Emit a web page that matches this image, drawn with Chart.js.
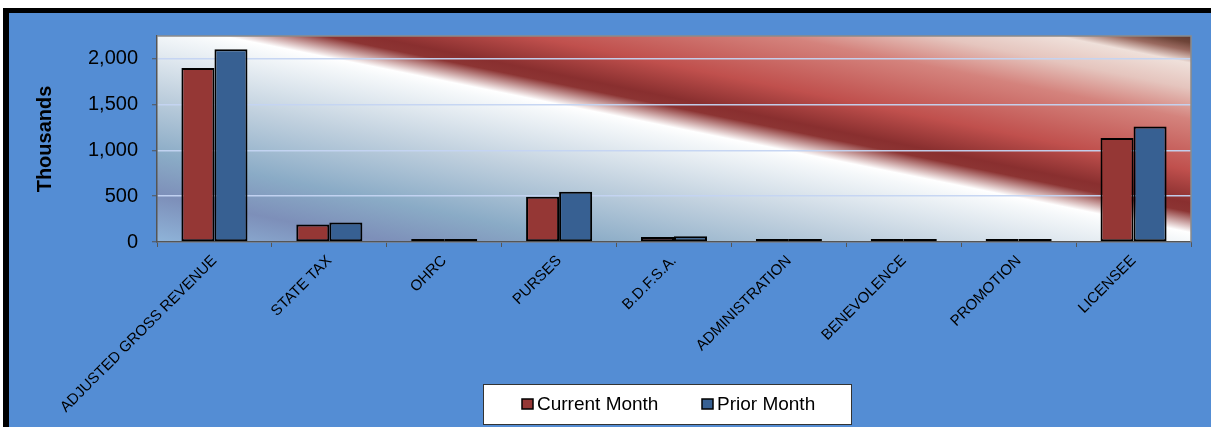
<!DOCTYPE html>
<html>
<head>
<meta charset="utf-8">
<script src="https://cdn.jsdelivr.net/npm/chart.js@4.4.0/dist/chart.umd.min.js"></script>
<style>
  html, body { margin: 0; padding: 0; background: #fff; overflow: hidden; }
  #frame {
    position: absolute; left: 3px; top: 8px;
    width: 1260px; height: 460px;
    border: 5px solid #000; border-left-width: 6px;
    background: #548dd4;
  }
  #chart { position: absolute; left: 0; top: 0; }
</style>
</head>
<body>
<div id="frame"></div>
<canvas id="chart" width="1211" height="427"></canvas>
<script>
// chart values (thousands)
const categories = [
  "ADJUSTED GROSS REVENUE", "STATE TAX", "OHRC", "PURSES", "B.D.F.S.A.",
  "ADMINISTRATION", "BENEVOLENCE", "PROMOTION", "LICENSEE"
];
const currentMonth = [1900, 190, 10, 495, 55, 6, 5, 6, 1135];
const priorMonth = [2105, 212, 12, 550, 62, 7, 6, 7, 1262];
const yTicks = [0, 500, 1000, 1500, 2000];

const FONT = "Arial, 'Liberation Sans', sans-serif";

// diagonal red / white / blue fill behind the plot
const plotBackground = {
  id: "plotBackground",
  beforeDraw(chart) {
    const { ctx, chartArea: a } = chart;
    const nx = 0.199, ny = -0.980;
    const len = 408;
    const g = ctx.createLinearGradient(a.left, a.bottom, a.left + nx * len, a.bottom + ny * len);
    g.addColorStop(0.000, "#8fb4d9");
    g.addColorStop(0.113, "#7d8fb9");
    g.addColorStop(0.210, "#8aabc6");
    g.addColorStop(0.358, "#c0d0de");
    g.addColorStop(0.505, "#f5f8fa");
    g.addColorStop(0.527, "#ffffff");
    g.addColorStop(0.576, "#8c3433");
    g.addColorStop(0.598, "#892f2f");
    g.addColorStop(0.676, "#c0504d");
    g.addColorStop(0.799, "#d4837d");
    g.addColorStop(0.873, "#e5c5be");
    g.addColorStop(0.934, "#efe0da");
    g.addColorStop(0.963, "#9a6a60");
    g.addColorStop(0.983, "#6e4438");
    g.addColorStop(1.000, "#5e3a32");
    ctx.save();
    ctx.fillStyle = g;
    ctx.fillRect(a.left, a.top, a.right - a.left, a.bottom - a.top);
    ctx.restore();
  },
  afterDatasetsDraw(chart) {
    const { ctx, chartArea: a } = chart;
    ctx.save();
    ctx.strokeStyle = "#8a8a8a";
    ctx.lineWidth = 1.5;
    ctx.beginPath();
    ctx.moveTo(a.left, a.top);
    ctx.lineTo(a.right, a.top);
    ctx.lineTo(a.right, a.bottom);
    ctx.stroke();
    ctx.restore();
  }
};

// boxed legend under the labels
const boxLegend = {
  id: "boxLegend",
  afterDraw(chart) {
    const ctx = chart.ctx;
    const sets = chart.data.datasets;
    const itemX = [522, 702];
    ctx.save();
    ctx.fillStyle = "#ffffff";
    ctx.strokeStyle = "#333333";
    ctx.lineWidth = 1;
    ctx.fillRect(483.5, 384.5, 368, 40);
    ctx.strokeRect(483.5, 384.5, 368, 40);
    ctx.font = "19px " + FONT;
    ctx.textBaseline = "middle";
    sets.forEach((ds, i) => {
      ctx.fillStyle = ds.backgroundColor;
      ctx.fillRect(itemX[i], 399, 11, 10);
      ctx.strokeStyle = "#000";
      ctx.lineWidth = 1.5;
      ctx.strokeRect(itemX[i], 399, 11, 10);
      ctx.fillStyle = "#000";
      ctx.fillText(ds.label, itemX[i] + 15, 405);
    });
    ctx.restore();
  }
};

const barStyle = {
  borderColor: "#000000",
  borderWidth: 2,
  borderSkipped: false,
  minBarLength: 3,
  barPercentage: 1,
  categoryPercentage: 0.575
};

new Chart(document.getElementById("chart"), {
  type: "bar",
  data: {
    labels: categories,
    datasets: [
      { label: "Current Month", data: currentMonth, backgroundColor: "#953735", ...barStyle },
      { label: "Prior Month", data: priorMonth, backgroundColor: "#376092", ...barStyle }
    ]
  },
  options: {
    responsive: false,
    devicePixelRatio: 1,
    animation: false,
    layout: { padding: { left: 0, top: 36, right: 20, bottom: 0 } },
    plugins: {
      legend: { display: false },
      tooltip: { enabled: false }
    },
    scales: {
      x: {
        grid: {
          drawOnChartArea: false,
          drawTicks: true,
          tickLength: 5,
          color: "#555555",
          lineWidth: 1
        },
        border: { color: "#555555", width: 1.5 },
        ticks: {
          autoSkip: false,
          maxRotation: 45,
          minRotation: 45,
          padding: 5,
          color: "#000000",
          font: { family: FONT, size: 15 }
        },
        afterFit(scale) { scale.height = 185; }
      },
      y: {
        min: 0,
        max: 2250,
        grid: {
          color: "rgba(196, 212, 242, 0.95)",
          lineWidth: 1.5,
          tickLength: 5,
          tickColor: "#555555",
          tickWidth: 1
        },
        border: { color: "#555555", width: 1.5 },
        ticks: {
          stepSize: 500,
          padding: 14,
          color: "#000000",
          font: { family: FONT, size: 20 },
          callback: (v) => v.toLocaleString("en-US")
        },
        afterBuildTicks(scale) {
          scale.ticks = yTicks.map((v) => ({ value: v }));
        },
        title: {
          display: true,
          text: "Thousands",
          color: "#000000",
          font: { family: FONT, size: 20, weight: "bold" },
          padding: { top: 33, bottom: 0 }
        },
        afterFit(scale) { scale.width = 157; }
      }
    }
  },
  plugins: [plotBackground, boxLegend]
});
</script>
</body>
</html>
